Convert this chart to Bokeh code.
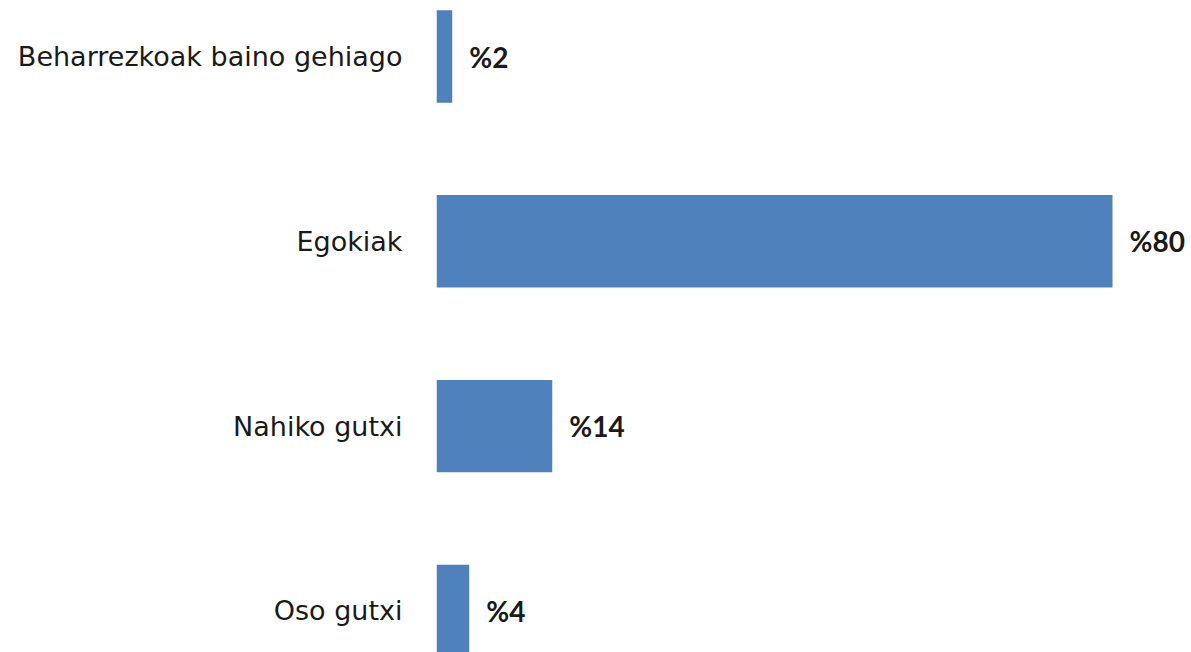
from bokeh.plotting import figure
from bokeh.models import Range1d, ColumnDataSource, FixedTicker, LabelSet
from bokeh.core.properties import value
from bokeh.embed import file_html
from bokeh.resources import INLINE

categories = ["Beharrezkoak baino gehiago", "Egokiak", "Nahiko gutxi", "Oso gutxi"]
values = [1.86, 80.0, 13.7, 3.87]
value_labels = ["%2", "%80", "%14", "%4"]

positions = list(range(len(categories)))
src = ColumnDataSource(dict(y=positions, v=values, lab=value_labels))

W, H = 1191, 652
left_px = 436
px_per_unit = 676 / 80.0
x_end = (W - left_px) / px_per_unit
unit_px = 184.8
top_val = -56 / unit_px
bot_val = (H - 56) / unit_px

p = figure(width=W, height=H, output_backend="svg", toolbar_location=None,
           x_range=Range1d(0, x_end), y_range=Range1d(bot_val, top_val),
           min_border_left=left_px, min_border_right=0, min_border_top=0, min_border_bottom=0)
p.hbar(y="y", right="v", left=0, height=0.5, source=src, color="#4F81BD", line_color=None)

labels = LabelSet(x="v", y="y", text="lab", source=src, x_offset=17, y_offset=0,
                  text_align="left", text_baseline="middle", text_font=value("Lato"),
                  text_font_style="bold", text_font_size="28px", text_color="#1a1a1a")
p.add_layout(labels)

p.xaxis.visible = False
p.yaxis.ticker = FixedTicker(ticks=positions)
p.yaxis.major_label_overrides = {i: c for i, c in enumerate(categories)}
p.yaxis.axis_line_color = None
p.yaxis.major_tick_line_color = None
p.yaxis.minor_tick_line_color = None
p.yaxis.major_tick_out = 0
p.yaxis.major_tick_in = 0
p.yaxis.major_label_standoff = 34
p.yaxis.major_label_text_font = "DejaVu Sans"
p.yaxis.major_label_text_font_size = "27px"
p.yaxis.major_label_text_color = "#1a1a1a"
p.grid.visible = False
p.outline_line_color = None

open("out.html", "w").write(file_html(p, INLINE))
